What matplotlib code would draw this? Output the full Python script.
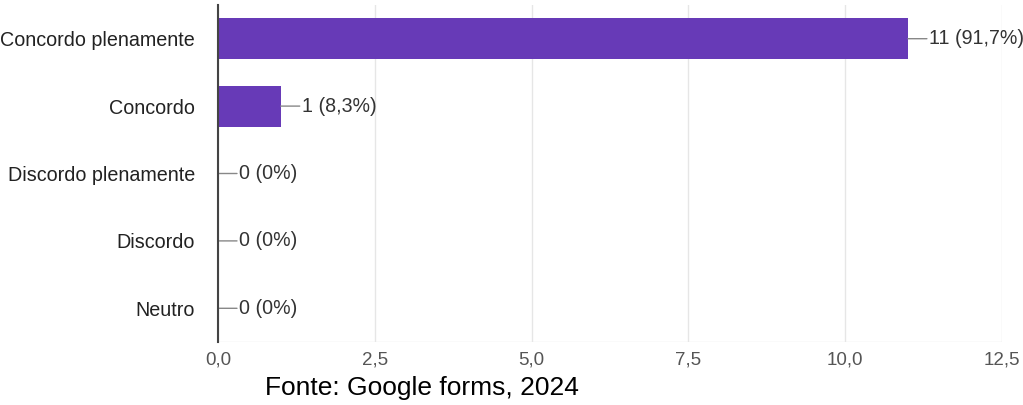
import matplotlib
matplotlib.use("Agg")
import matplotlib.pyplot as plt

categories = ["Concordo plenamente", "Concordo", "Discordo plenamente", "Discordo", "Neutro"]
values = [11, 1, 0, 0, 0]
labels = ["11 (91,7%)", "1 (8,3%)", "0 (0%)", "0 (0%)", "0 (0%)"]
xticks = [0, 2.5, 5, 7.5, 10, 12.5]
xticklabels = ["0,0", "2,5", "5,0", "7,5", "10,0", "12,5"]

FONT = "Liberation Sans"
fig = plt.figure(figsize=(10.23, 4.05), dpi=100)
ax = fig.add_axes([218/1023, 1-342/405, (1002-218)/1023, (342-5)/405])
ypos = list(range(len(categories)))
ax.barh(ypos, values, height=0.61, color="#673ab7", zorder=3)
ax.set_ylim(len(categories)-0.5, -0.5)
ax.set_xlim(0, 12.5)
ax.set_xticks(xticks)
ax.set_xticklabels(xticklabels, family=FONT, fontsize=13.5, color="#555555")
ax.set_yticks(ypos)
ax.set_yticklabels(categories, family=FONT, fontsize=14.2, color="#222222")
ax.tick_params(axis="both", length=0)
ax.tick_params(axis="x", pad=7)
ax.tick_params(axis="y", pad=16.5)
ax.grid(axis="x", color="#e6e6e6", linewidth=1, zorder=0)
for s in ["top", "right", "bottom"]:
    ax.spines[s].set_visible(False)
ax.spines["left"].set_color("#444444")
ax.spines["left"].set_linewidth(1.5)
ax.spines["left"].set_zorder(4)
ax.axhline(len(categories)-0.5, color="#e6e6e6", linewidth=1, zorder=0)

for y, v, lab in zip(ypos, values, labels):
    ax.annotate("", xy=(v, y), xytext=(19, 0), textcoords="offset pixels",
                arrowprops=dict(arrowstyle="-", color="#888888", lw=1,
                                shrinkA=0, shrinkB=0))
    ax.annotate(lab, xy=(v, y), xytext=(21, 0), textcoords="offset pixels",
                va="center", ha="left", family=FONT, fontsize=14.1, color="#333333")

fig.text(265/1023, 1-388/405, "Fonte: Google forms, 2024", family=FONT,
         fontsize=19, color="black", va="center", ha="left")

fig.savefig("out.png", dpi=100)
